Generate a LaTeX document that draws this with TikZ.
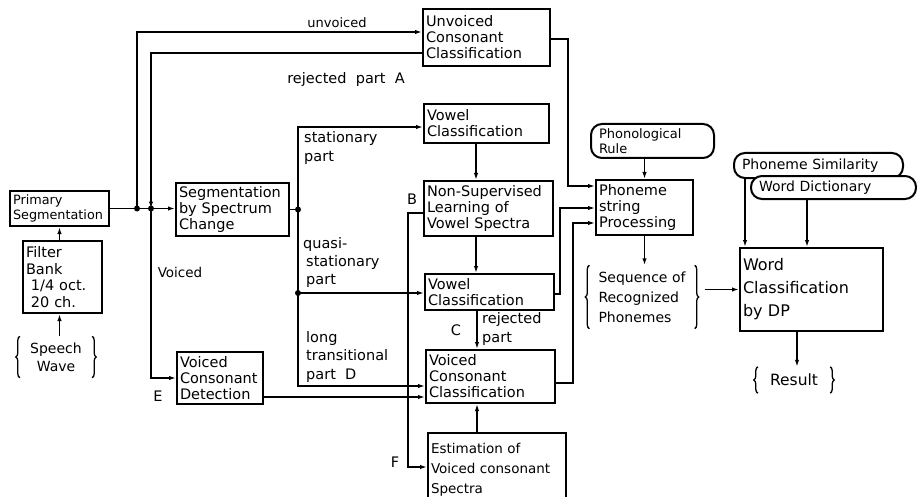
\documentclass[tikz,border=0pt]{standalone}
\usepackage{fontspec}
\setmainfont{DejaVu Sans}
\usetikzlibrary{arrows.meta,calc,decorations.pathreplacing}

\newcommand{\lett}{\fontsize{14.5}{16}\selectfont}

\begin{document}
\begin{tikzpicture}[x=1pt, y=-1pt,
    blk/.style={draw, line width=2pt, anchor=north west, align=left,
                inner xsep=3pt, inner ysep=0pt, font=\lett},
    rblk/.style={blk, rounded corners=11pt, inner xsep=8pt, fill=white},
    lab/.style={inner sep=0pt, font=\lett, align=left},
    brcd/.style={inner sep=0pt, align=left},
    brc/.style={decorate, decoration={brace, amplitude=4pt}, line width=1.3pt},
    ln/.style={line width=1.7pt},
    arr/.style={ln, -{Latex[length=7pt,width=4.4pt]}},
]
\useasboundingbox (0,0) rectangle (917,497);

% ---- Front end ----
\node[blk, text width=93pt, minimum height=35pt, font=\fontsize{12.8}{15}\selectfont] (prim) at (9,190) {Primary\\Segmentation};
\node[blk, text width=73pt, minimum height=72pt, font=\fontsize{14.5}{16.5}\selectfont] (filt) at (22,240) {Filter\\Bank\\\hspace*{5pt}1/4 oct.\\\hspace*{5pt}20 ch.};
\node[brcd, align=center, minimum width=72pt, minimum height=41pt, font=\fontsize{14}{18}\selectfont] (speech) at (56,357) {Speech\\Wave};

\node[blk, text width=107pt, minimum height=53pt] (seg) at (175,182) {Segmentation\\by Spectrum\\Change};
\node[blk, text width=80pt, minimum height=52pt] (vcd) at (176,351) {Voiced\\Consonant\\Detection};

% ---- Classifiers ----
\node[blk, text width=121pt, minimum height=57pt] (unv) at (422,8) {Unvoiced\\Consonant\\Classification};
\node[blk, text width=119pt, minimum height=39pt] (vow1) at (423,103) {Vowel\\Classification};
\node[blk, text width=123pt, minimum height=55pt] (nsl) at (423,180) {Non-Supervised\\Learning of\\Vowel Spectra};
\node[blk, text width=123pt, minimum height=36pt] (vow2) at (424,273) {Vowel\\Classification};
\node[blk, text width=123pt, minimum height=53pt] (vcc) at (425,349) {Voiced\\Consonant\\Classification};
\node[blk, text width=132pt, minimum height=73pt, font=\fontsize{13.5}{20}\selectfont] (est) at (427,432) {Estimation of\\Voiced consonant\\Spectra};

% ---- Phoneme string and word level ----
\node[rblk, text width=107pt, minimum height=34pt, font=\fontsize{13}{15}\selectfont] (phr) at (590,123) {Phonological\\Rule};
\node[blk, text width=91pt, minimum height=55pt] (phs) at (595,179) {Phoneme\\string\\Processing};
\node[brcd, minimum width=105pt, minimum height=63pt, font=\fontsize{14}{20}\selectfont] (seq) at (642,297) {Sequence of\\Recognized\\Phonemes};

\node[rblk, text width=153pt, minimum height=25pt, font=\fontsize{14}{16}\selectfont] (psim) at (733,152) {Phoneme Similarity};
\node[rblk, text width=149pt, minimum height=23pt, font=\fontsize{14}{16}\selectfont] (wdict) at (750,175) {Word Dictionary};
\node[blk, text width=137pt, minimum height=83pt, font=\fontsize{16}{23}\selectfont] (wcl) at (739,247) {Word\\Classification\\by DP};
\node[brcd, minimum width=72pt, minimum height=26pt, font=\fontsize{15.5}{18}\selectfont] (res) at (794,380) {Result};

% ---- Braces ----
\foreach \b in {speech,seq,res}{
  \draw[brc] (\b.south west) -- (\b.north west);
  \draw[brc] (\b.north east) -- (\b.south east);
}

% ---- Labels ----
\node[lab, font=\fontsize{13}{15}\selectfont] (lunv) at (337,23) {unvoiced};
\node[lab] (lrej) at (346,80) {rejected\ \ part\ \ A};
\node[lab, anchor=north west, font=\fontsize{14.5}{19}\selectfont] (lsta) at (304,131) {stationary\\part};
\node[lab, anchor=north west, font=\fontsize{14.5}{18}\selectfont] (lqua) at (303,237) {quasi-\\\hspace*{3pt}stationary\\\hspace*{3pt}part};
\node[lab, anchor=north west, font=\fontsize{14.5}{18.5}\selectfont] (llong) at (306,331) {long\\transitional\\part\ \ D};
\node[lab, font=\fontsize{13.5}{16}\selectfont] (lvoi) at (180,272) {Voiced};
\node[lab] (lE) at (158,396) {E};
\node[lab] (lB) at (412,199) {B};
\node[lab] (lC) at (456,330) {C};
\node[lab, anchor=north west, font=\fontsize{14.5}{19}\selectfont] (lrp) at (482,312) {rejected\\part};
\node[lab] (lF) at (395,462) {F};

% ---- Connectors: front end ----
\draw[arr] (prim.south |- speech.north) -- (prim.south |- filt.south);
\draw[arr] (prim.south |- filt.north) -- (prim.south);
\coordinate (j1) at ($(prim.east)+(27,0)$);
\coordinate (j2) at ($(prim.east)+(41,0)$);
\draw[arr] (prim.east) -- (prim.east -| seg.west);
\draw[arr] (j1) |- ($(unv.north west)+(0,24)$);
\draw[arr] ($(unv.north west)+(0,45)$) -| (j2);
\draw[arr] (j2) |- ($(vcd.north west)+(0,27)$);

% ---- Connectors: segmentation branches ----
\coordinate (sj) at ($(seg.east)+(8,0)$);
\coordinate (qin) at ($(vow2.north west)+(0,20)$);
\coordinate (qj) at (sj |- qin);
\draw[ln] (seg.east) -- (sj);
\draw[arr] (sj) |- ($(vow1.north west)+(0,24)$);
\draw[arr] (qj) -- (qin);
\draw[arr] (sj) |- ($(vcc.north west)+(0,37)$);
\coordinate (ein) at ($(vcc.north west)+(0,48)$);
\draw[arr] (vcd.east |- ein) -- (ein);

% ---- Connectors: vowel / consonant chain ----
\draw[arr] ($(vow1.south west)+(53,0)$) coordinate (t1) -- (t1 |- nsl.north);
\draw[arr] ($(nsl.south west)+(53,0)$) coordinate (t2) -- (t2 |- vow2.north);
\draw[arr] ($(vow2.south west)+(53,0)$) coordinate (t3) -- (t3 |- vcc.north);
\draw[arr] ($(est.north west)+(50,0)$) coordinate (t4) -- (t4 |- vcc.south);
\draw[arr] ($(nsl.north west)+(0,33)$) -- ++(-15,0) |- ($(est.north west)+(0,35)$);

% ---- Connectors: into phoneme string processing ----
\draw[arr] ($(unv.east)+(0,1.5)$) -- ++(17,0) |- ($(phs.north west)+(0,7)$);
\draw[arr] ($(vow2.east)+(0,2)$) -- ++(5,0) |- ($(phs.north west)+(0,29)$);
\draw[arr] ($(vcc.east)+(0,6.5)$) -- ++(17,0) |- ($(phs.north west)+(0,44)$);
\draw[arr] (phs.north |- phr.south) -- (phs.north);
\draw[arr] (phs.south) -- (phs.south |- seq.north);
\draw[arr] ([xshift=10pt]wcl.west -| seq.east) -- (wcl.west);

% ---- Connectors: word level ----
\draw[arr] ($(psim.south west)+(12,0)$) coordinate (t5) -- (t5 |- wcl.north);
\draw[arr] ($(wdict.south west)+(57,0)$) coordinate (t6) -- (t6 |- wcl.north);
\draw[arr] ($(wcl.south west)+(58,0)$) coordinate (t7) -- (t7 |- res.north);

% ---- Junction dots ----
\foreach \p in {j1,j2,sj,qj}
  \fill (\p) circle (3pt);

\end{tikzpicture}
\end{document}
